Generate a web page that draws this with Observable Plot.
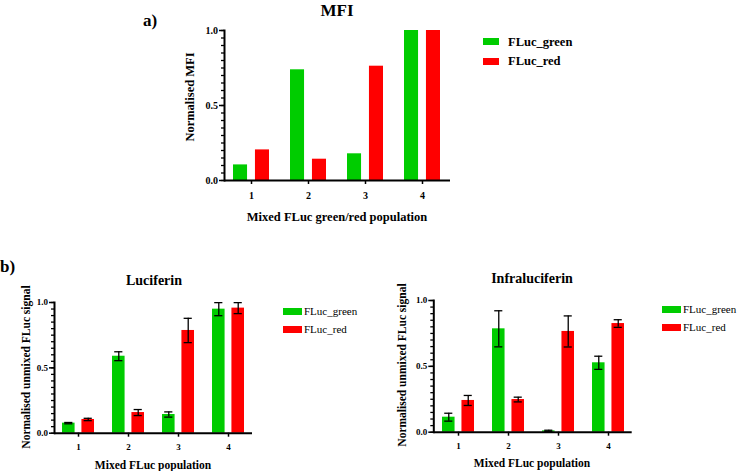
<!DOCTYPE html>
<html>
<head>
<meta charset="utf-8">
<script src="https://cdn.jsdelivr.net/npm/d3@7"></script>
<script src="https://cdn.jsdelivr.net/npm/@observablehq/plot@0.6"></script>
<style>
  html, body { margin: 0; padding: 0; background: #fff; }
  #root { position: relative; width: 737px; height: 471px; overflow: hidden; font-family: 'Liberation Serif', Tinos, 'Times New Roman', 'DejaVu Serif', serif; color: #000; }
  .t { position: absolute; white-space: nowrap; line-height: 1; }
  .c { transform: translate(-50%, -50%); }
  .rot { transform: translate(-50%, -50%) rotate(-90deg); }
  .b { font-weight: bold; }
  .sw { position: absolute; }
  .panel { position: absolute; }
</style>
</head>
<body>
<div id="root"></div>
<script>
// ---- data ----
const categories = ["1", "2", "3", "4"];
const seriesNames = ["FLuc_green", "FLuc_red"];
const seriesColors = ["#00cc00", "#ff0000"];
const majorTicks = [0, 0.5, 1.0];

const mfiGreen = [0.104, 0.738, 0.178, 1.0];
const mfiRed   = [0.204, 0.142, 0.762, 1.0];

const lucGreen    = [0.077, 0.589, 0.143, 0.949];
const lucGreenErr = [0.005, 0.034, 0.020, 0.050];
const lucRed      = [0.105, 0.158, 0.786, 0.957];
const lucRedErr   = [0.009, 0.023, 0.093, 0.042];

const infGreen    = [0.114, 0.785, 0.010, 0.527];
const infGreenErr = [0.030, 0.137, 0.005, 0.050];
const infRed      = [0.241, 0.248, 0.765, 0.825];
const infRedErr   = [0.038, 0.018, 0.118, 0.029];

const minorTicks = d3.range(0, 1.0001, 0.05);
const FONT = "'Liberation Serif', Tinos, 'Times New Roman', 'DejaVu Serif', serif";

function rows(vals, errs) {
  return categories.map((c, i) => ({cat: c, v: vals[i], e: errs ? errs[i] : 0}));
}

function panel(o) {
  const n = categories.length;
  const inner = o.width - o.ml - o.mr;
  const step = inner / (n - o.pi + 2 * o.po);
  const bw = step * (1 - o.pi);
  const barW = (bw - o.gap) / 2;
  const off = o.gap / 2 + barW / 2;
  const capInset = (bw - o.capW) / 2;
  const g = rows(o.green, o.greenErr);
  const r = rows(o.red, o.redErr);
  const marks = [
    Plot.barY(g, {x: "cat", y: "v", fill: seriesColors[0], insetRight: bw - barW}),
    Plot.barY(r, {x: "cat", y: "v", fill: seriesColors[1], insetLeft: bw - barW})
  ];
  if (o.greenErr) {
    for (const [d, dx] of [[g, -off], [r, off]]) {
      marks.push(Plot.ruleX(d, {x: "cat", y1: x => x.v - x.e, y2: x => x.v + x.e, dx, stroke: "#000", strokeWidth: 1.3}));
      marks.push(Plot.tickY(d, {x: "cat", y: x => x.v - x.e, dx, insetLeft: capInset, insetRight: capInset, stroke: "#000", strokeWidth: 1.3}));
      marks.push(Plot.tickY(d, {x: "cat", y: x => x.v + x.e, dx, insetLeft: capInset, insetRight: capInset, stroke: "#000", strokeWidth: 1.3}));
    }
  }
  marks.push(
    Plot.axisY({ticks: minorTicks, tickSize: 3, tickFormat: () => "", strokeWidth: 1.3, label: null}),
    Plot.axisY({ticks: majorTicks, tickSize: 5, tickPadding: 1.5, tickFormat: d3.format(".1f"), strokeWidth: 1.5, label: null, fontWeight: "bold"}),
    Plot.axisX({tickSize: 4, tickPadding: o.xpad, strokeWidth: 1.5, label: null, fontWeight: "bold"}),
    Plot.ruleY([0], {strokeWidth: 2}),
    Plot.frame({anchor: "left", strokeWidth: 2})
  );
  const svg = Plot.plot({
    width: o.width, height: o.height,
    marginLeft: o.ml, marginRight: o.mr, marginTop: o.mt, marginBottom: o.mb,
    x: {domain: categories, paddingInner: o.pi, paddingOuter: o.po, label: null},
    y: {domain: [0, 1], label: null},
    style: {fontFamily: FONT, fontSize: o.fs + "px", fontWeight: "bold", background: "transparent", overflow: "visible", color: "#000"},
    marks
  });
  svg.classList.add("panel");
  svg.style.left = o.left + "px";
  svg.style.top = o.top + "px";
  return svg;
}

const root = document.getElementById("root");

root.appendChild(panel({green: mfiGreen, red: mfiRed, width: 460, height: 230, left: 0, top: 0,
  ml: 224, mr: 10, mt: 30, mb: 50, pi: 0.365, po: 0.1375, gap: 7.2, capW: 8, fs: 10, xpad: 7}));
root.appendChild(panel({green: lucGreen, red: lucRed, greenErr: lucGreenErr, redErr: lucRedErr,
  width: 270, height: 231, left: 0, top: 240,
  ml: 54, mr: 18, mt: 62, mb: 38.3, pi: 0.37, po: 0.144, gap: 7, capW: 8, fs: 9, xpad: 6}));
root.appendChild(panel({green: infGreen, red: infRed, greenErr: infGreenErr, redErr: infRedErr,
  width: 290, height: 231, left: 370, top: 240,
  ml: 63.3, mr: 28.3, mt: 60, mb: 39.3, pi: 0.37, po: 0.144, gap: 7, capW: 8, fs: 9, xpad: 6}));

function text(str, x, y, size, cls) {
  const d = document.createElement("div");
  d.className = "t " + cls;
  d.textContent = str;
  d.style.left = x + "px";
  d.style.top = y + "px";
  d.style.fontSize = size + "px";
  root.appendChild(d);
  return d;
}
function legend(x, y0, dy, swW, swH, textX, size, bold) {
  seriesNames.forEach((name, i) => {
    const s = document.createElement("div");
    s.className = "sw";
    s.style.left = x + "px";
    s.style.top = (y0 + i * dy - swH / 2) + "px";
    s.style.width = swW + "px";
    s.style.height = swH + "px";
    s.style.background = seriesColors[i];
    root.appendChild(s);
    text(name, textX, y0 + i * dy, size, "c" + (bold ? " b" : "")).style.transform = "translate(0, -50%)";
  });
}

// panel a texts
text("a)", 143, 12, 17, "b");
text("MFI", 337, 10, 17, "c b");
text("Normalised MFI", 190, 97, 12.5, "rot b");
text("Mixed FLuc green/red population", 337, 217, 12.5, "c b");
legend(483, 41.5, 19.5, 16, 7, 508, 12.5, true);

// panel b texts
text("b)", 0, 258, 17, "b");
text("Luciferin", 154, 281, 14, "c b");
text("Normalised unmixed FLuc signal", 27, 367, 11.5, "rot b");
text("Mixed FLuc population", 153, 466, 11.5, "c b");
legend(283, 311, 18, 19, 7, 304, 11, false);

text("Infraluciferin", 532, 279, 14, "c b");
text("Normalised unmixed FLuc signal", 403, 365, 11.5, "rot b");
text("Mixed FLuc population", 532, 464, 11.5, "c b");
legend(662, 309, 18, 19, 7, 683, 11, false);
</script>
</body>
</html>
